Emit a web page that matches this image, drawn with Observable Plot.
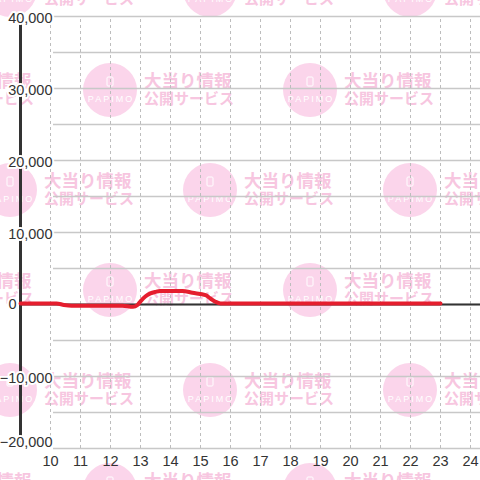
<!DOCTYPE html>
<html>
<head>
<meta charset="utf-8">
<script src="https://cdn.jsdelivr.net/npm/d3@7"></script>
<script src="https://cdn.jsdelivr.net/npm/@observablehq/plot@0.6"></script>
<style>
  html, body { margin: 0; padding: 0; background: #ffffff; }
  #wrap { position: relative; width: 480px; height: 480px; overflow: hidden; }
  #wm, #chart { position: absolute; left: 0; top: 0; }
</style>
</head>
<body>
<div id="wrap"><div id="wm"></div><div id="chart"></div></div>
<script>
// ---- data ----
const hours = [9, 10.2, 10.45, 10.7, 12.4, 12.75, 12.9, 13.0, 13.17, 13.33, 13.5, 13.65, 14.4, 14.73, 15.17, 15.33, 15.5, 15.67, 23];
const values = [0, 0, -200, -300, -300, -450, -200, 300, 1000, 1400, 1620, 1740, 1740, 1490, 1150, 700, 240, 0, 0];
const xTicks = [10, 11, 12, 13, 14, 15, 16, 17, 18, 19, 20, 21, 22, 23, 24];
const yLabels = [40000, 30000, 20000, 10000, -10000];
const yZeroLabel = [0];
const yBottomLabel = [-20000];
const yGrid = [40000, 35000, 30000, 25000, 20000, 15000, 10000, 5000, 0, -5000, -10000, -15000, -20000];
const wmLine1 = "大当り情報";
const wmLine2 = "公開サービス";
const wmLogo = "PAPIMO";

const series = hours.map((h, i) => ({h, v: values[i]}));
const xDomain = [9, 9 + 460 / 30];
const yDomain = [-20000, 40000];
const gridStart = 10.1;
const fmt = d3.format(",");
const font = "'Liberation Sans', Arial, sans-serif";

// ---- background watermark ----
const wm = d3.select("#wm").append("svg").attr("width", 480).attr("height", 480);
for (let j = 0; j < 6; j++) {
  const cy = -10 + 100 * j;
  const off = j % 2 === 0 ? 10 : 110;
  for (let i = 0; i < 4; i++) {
    const cx = off - 200 + 200 * i;
    const g = wm.append("g");
    g.append("circle").attr("cx", cx).attr("cy", cy).attr("r", 27).attr("fill", "#fbd5eb");
    g.append("rect").attr("x", cx - 3).attr("y", cy - 13).attr("width", 6).attr("height", 9).attr("rx", 1)
      .attr("fill", "none").attr("stroke", "#ffffff").attr("stroke-width", 1);
    g.append("text").attr("x", cx + 1).attr("y", cy + 10).attr("text-anchor", "middle").attr("dominant-baseline", "middle")
      .attr("fill", "#ffffff").attr("font-size", 9).attr("letter-spacing", 2).attr("font-family", font).text(wmLogo);
    g.append("text").attr("x", cx + 34).attr("y", cy - 8).attr("dominant-baseline", "middle")
      .attr("fill", "#f7c6e0").attr("font-size", 17.5).attr("font-weight", 700)
      .attr("font-family", "'Noto Sans CJK JP', sans-serif").text(wmLine1);
    g.append("text").attr("x", cx + 34).attr("y", cy + 10).attr("dominant-baseline", "middle")
      .attr("fill", "#f7c6e0").attr("font-size", 15).attr("font-weight", 700)
      .attr("font-family", "'Noto Sans CJK JP', sans-serif").text(wmLine2);
  }
}

// ---- chart ----
const labelStyle = {fill: "#333333", stroke: "#ffffff", strokeWidth: 4, fontSize: 14.5, textAnchor: "end"};
const chart = Plot.plot({
  width: 480,
  height: 480,
  marginLeft: 20,
  marginRight: 0,
  marginTop: 16,
  marginBottom: 32,
  style: {background: "transparent", fontFamily: font},
  x: {domain: xDomain, axis: null},
  y: {domain: yDomain, axis: null},
  marks: [
    Plot.ruleY(yGrid, {x1: gridStart, x2: xDomain[1], stroke: "#c8c8c8", strokeWidth: 1.5}),
    Plot.ruleX(xTicks, {y1: yDomain[0], y2: yDomain[1], stroke: "#bdbdbd", strokeWidth: 1, strokeDasharray: "3,3"}),
    Plot.ruleY([0], {x1: xDomain[0], x2: xDomain[1], stroke: "#333333", strokeWidth: 2}),
    Plot.ruleX([xDomain[0]], {y1: yDomain[0], y2: yDomain[1], stroke: "#333333", strokeWidth: 3}),
    Plot.line(series, {x: "h", y: "v", stroke: "#e51e2e", strokeWidth: 4, curve: "monotone-x", dy: -1}),
    Plot.text(yLabels, {x: () => xDomain[0], y: d => d, text: d => fmt(d), dx: 32, dy: 1.5, ...labelStyle}),
    Plot.text(yZeroLabel, {x: () => xDomain[0], y: d => d, text: d => fmt(d), dx: -4, dy: 0, ...labelStyle}),
    Plot.text(yBottomLabel, {x: () => xDomain[0], y: d => d, text: d => fmt(d), dx: 32, dy: -6, ...labelStyle}),
    Plot.text(xTicks, {x: d => d, y: () => yDomain[0], text: d => String(d), dy: 13,
      fill: "#333333", fontSize: 14.5})
  ]
});
document.getElementById("chart").appendChild(chart);
</script>
</body>
</html>
